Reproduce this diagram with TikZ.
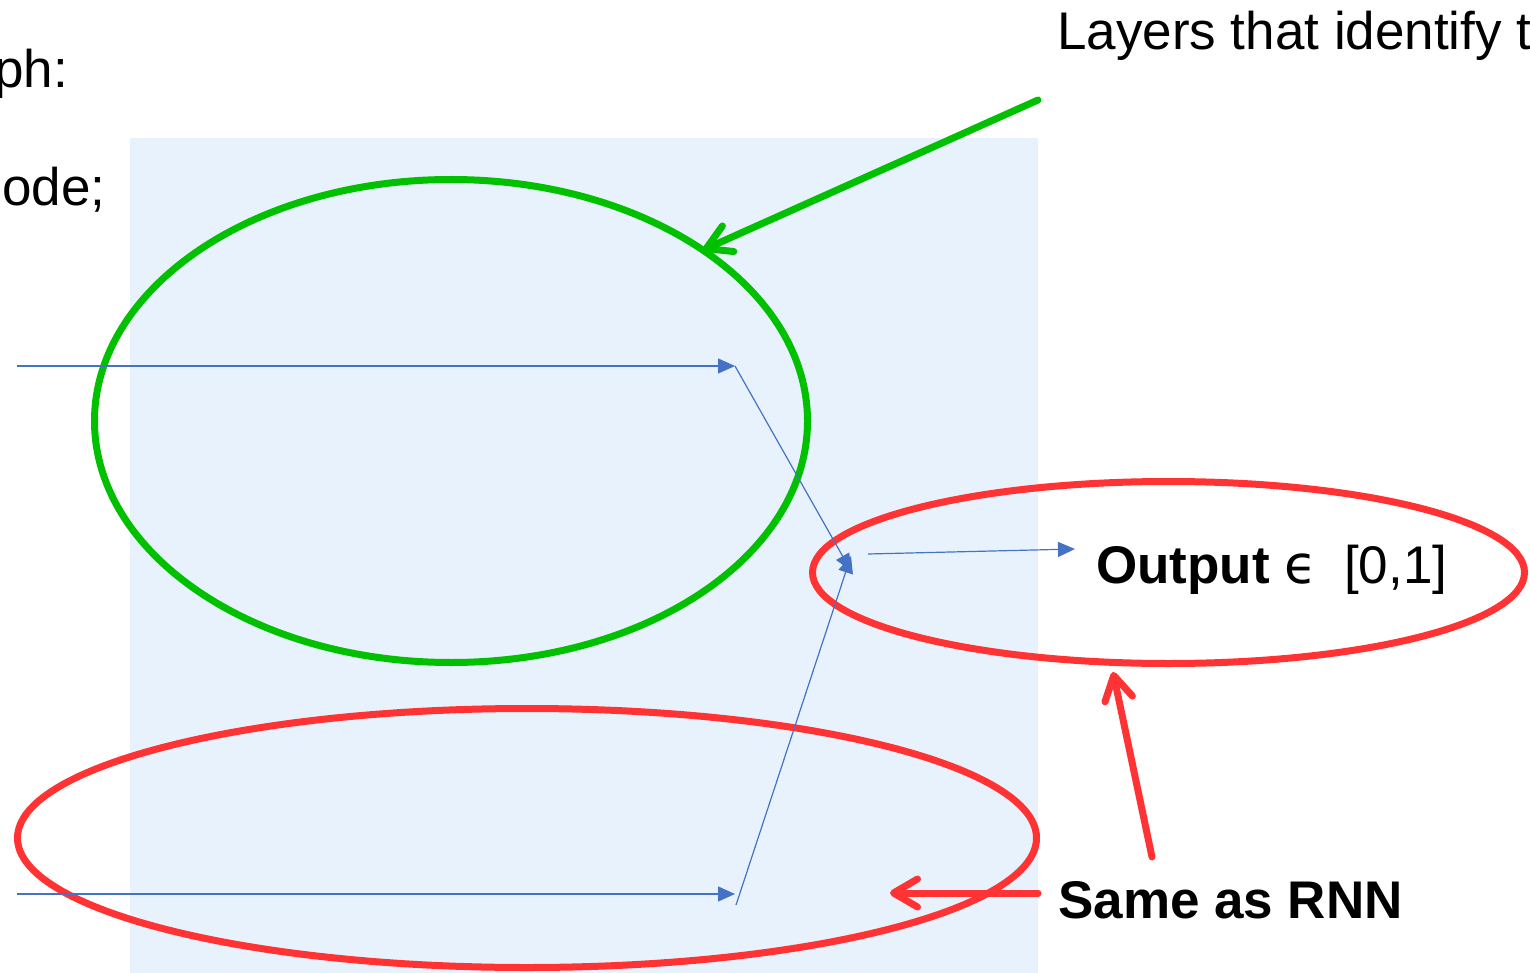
\documentclass[tikz,border=0pt]{standalone}
\usepackage{fontspec}
\setmainfont{Liberation Sans}
\newfontfamily\symfont{DejaVu Sans}
\usetikzlibrary{arrows.meta,shapes.geometric}
\definecolor{panel}{HTML}{E8F2FC}
\definecolor{flowblue}{HTML}{4472C4}
\definecolor{ringgreen}{HTML}{00C000}
\definecolor{ringred}{HTML}{FF3333}
\begin{document}
\begin{tikzpicture}[x=1pt,y=-1pt,
  txt/.style={inner sep=0pt, anchor=base west, font=\fontsize{53}{60}\selectfont},
  flow/.style={draw=flowblue, line width=1.2pt, -{Triangle[length=17pt,width=15pt]}},
  ring/.style={draw, ellipse, line width=7pt, inner sep=0pt},
  pointer/.style={line width=7pt, line cap=round, -{Straight Barb[length=24pt,width=28pt,round]}}]
\useasboundingbox (0,0) rectangle (1530,973);

% shaded panel
\fill[panel] (130,138) rectangle (1038,973);

% texts
\node[txt] (title) at (1057,50) {Layers that identify t};
\node[txt] (graph) at (-6,88) {ph:};
\node[txt] (node) at (2,206) {ode;};
\node[txt] (out) at (1096,583) {\bfseries Output {\mdseries\symfont ϵ}\hspace{27pt}\mdseries[0,1]};
\node[txt] (same) at (1058,918) {\bfseries Same as RNN};

% ellipses
\node[ring, draw=ringgreen, minimum width=713pt, minimum height=483pt] (green) at (451,421) {};
\node[ring, draw=ringred, minimum width=712pt, minimum height=182pt] (redout) at (1168.5,572.5) {};
\node[ring, draw=ringred, minimum width=1019pt, minimum height=259pt] (redin) at (527,838) {};

% flow coordinates
\coordinate (in1) at (17,366);
\coordinate (j1) at (735,366);
\coordinate (in2) at (17,894);
\coordinate (j2) at (735,894);
\coordinate (s2) at (736,905);
\coordinate (m1) at (851,571);
\coordinate (m2) at (851,556);
\coordinate (o1) at (868,554);
\coordinate (o2) at (1075,549);

\draw[flow] (in1) -- (j1);
\draw[flow] (j1) -- (m1);
\draw[flow] (in2) -- (j2);
\draw[flow] (s2) -- (m2);
\draw[flow] (o1) -- (o2);

% pointer arrows
\coordinate (gtail) at (1038,100);
\coordinate (gtip) at (703,250);
\coordinate (r1tail) at (1152,857);
\coordinate (r1tip) at (1113,672);
\coordinate (r2tail) at (1038,893);
\coordinate (r2tip) at (890,893);
\draw[pointer, ringgreen] (gtail) -- (gtip);
\draw[pointer, ringred] (r1tail) -- (r1tip);
\draw[pointer, ringred] (r2tail) -- (r2tip);
\end{tikzpicture}
\end{document}
